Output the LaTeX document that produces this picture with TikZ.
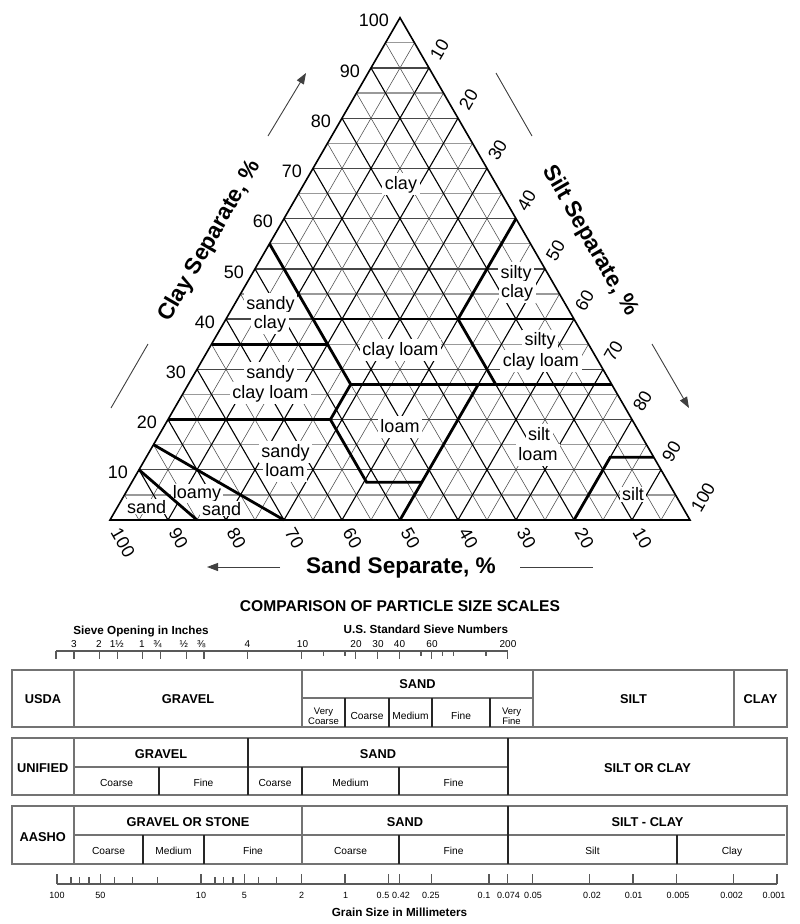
\documentclass[tikz,border=0pt]{standalone}
\usepackage{fontspec}
\setmainfont{Liberation Sans}
\usetikzlibrary{arrows.meta}
\pgfmathdeclarefunction{ternx}{2}{\pgfmathparse{110+5.8*(#2)+2.9*(#1)}}
\pgfmathdeclarefunction{terny}{1}{\pgfmathparse{520-5.0229*(#1)}}
\tikzset{
  gridmajorh/.style={draw=black!72, line width=1.3pt},
  gridminorh/.style={draw=black!40, line width=1.3pt},
  gridmajord/.style={draw=black, line width=1.1pt},
  gridminord/.style={draw=black!70, line width=0.55pt},
  bound/.style={draw=black, line width=2.8pt, line join=miter},
  outline/.style={draw=black, line width=1.6pt, line join=miter},
  clstight/.style={font=\fontsize{18}{20}\selectfont, fill=white, inner xsep=2pt, inner ysep=1pt, anchor=base},
  cls/.style={clstight, text height=15.5pt, text depth=5pt, inner xsep=2.5pt, inner ysep=0.5pt},
  axnum/.style={font=\fontsize{18}{20}\selectfont, inner sep=0pt},
  axtitle/.style={font=\bfseries\fontsize{22.6}{26}\selectfont, inner sep=0pt},
  arrline/.style={draw=black!75, line width=0.9pt},
  arrtip/.style={-{Triangle[length=11pt,width=8pt]}},
  lowtitle/.style={font=\bfseries\fontsize{15.6}{18}\selectfont, inner sep=0pt, anchor=base},
  scaletitle/.style={font=\bfseries\fontsize{11.7}{14}\selectfont, inner sep=0pt, anchor=base},
  sievenumtxt/.style={font=\fontsize{10}{12}\selectfont, inner sep=0pt, anchor=base},
  grainnumtxt/.style={font=\fontsize{9}{11}\selectfont, inner sep=0pt, anchor=base},
  scaleline/.style={draw=black!65, line width=1.2pt},
  tbold/.style={font=\bfseries\fontsize{12.8}{15}\selectfont, inner sep=0pt, anchor=base},
  tsub/.style={font=\fontsize{10.2}{12}\selectfont, inner sep=0pt, anchor=base},
  tsubsm/.style={font=\fontsize{9.5}{11}\selectfont, inner sep=0pt, anchor=base},
  tbox/.style={draw=black!55, line width=1.8pt},
  tdiv/.style={draw=black!85, line width=1.1pt},
}
\begin{document}
\begin{tikzpicture}[x=1pt,y=-1pt]
\fill[white] (0,0) rectangle (800,924);
\useasboundingbox (0,0) rectangle (800,924);
\coordinate (B) at (110,520);
\coordinate (R) at (690,520);
\coordinate (T) at (400,17.71);
% ---- grid ----
\foreach \k in {5,15,...,95}{
  \draw[gridminord] ({ternx(0,\k)},{terny(0)}) -- ({ternx(100-\k,\k)},{terny(100-\k)});
  \draw[gridminord] ({ternx(0,\k)},{terny(0)}) -- ({ternx(\k,0)},{terny(\k)});
}
\foreach \k in {5,15,...,95}{
  \draw[gridminorh] ({ternx(\k,0)},{terny(\k)}) -- ({ternx(\k,100-\k)},{terny(\k)});
}
\foreach \k in {10,20,...,90}{
  \draw[gridmajorh] ({ternx(\k,0)},{terny(\k)}) -- ({ternx(\k,100-\k)},{terny(\k)});
}
\foreach \k in {10,20,...,90}{
  \draw[gridmajord] ({ternx(0,\k)},{terny(0)}) -- ({ternx(100-\k,\k)},{terny(100-\k)});
  \draw[gridmajord] ({ternx(0,\k)},{terny(0)}) -- ({ternx(\k,0)},{terny(\k)});
}
% ---- class labels ----
\node[cls] (l-clay) at (401,189) {clay};
\node[cls] (l-sc1) at (516,278) {silty};
\node[cls] (l-sc2) at (517,297) {clay};
\node[cls] (l-sac1) at (270.5,309) {sandy};
\node[cls] (l-sac2) at (270,328) {clay};
\node[cls] (l-cl) at (400.5,355) {clay loam};
\node[cls] (l-scl1) at (540,345.7) {silty};
\node[cls] (l-scl2) at (541,366) {clay loam};
\node[cls] (l-sacl1) at (270.3,378) {sandy};
\node[cls] (l-sacl2) at (270.5,398) {clay loam};
\node[cls] (l-loam) at (400,432) {loam};
\node[cls] (l-sil1) at (539,440) {silt};
\node[cls] (l-sil2) at (538,460) {loam};
\node[cls] (l-sal1) at (285.5,457) {sandy};
\node[cls] (l-sal2) at (285,476.7) {loam};
\node[clstight] (l-ls1) at (197,498) {loamy};
\node[clstight] (l-ls2) at (221.7,515) {sand};
\node[clstight] (l-sand) at (146.7,513) {sand};
\node[clstight] (l-silt) at (633,500.7) {silt};
% ---- class boundaries ----
\draw[bound] ({ternx(55,0)},{terny(55)}) -- ({ternx(40,15)},{terny(40)}) -- ({ternx(35,20)},{terny(35)}) -- ({ternx(27,28)},{terny(27)}) -- ({ternx(20,28)},{terny(20)}) -- ({ternx(7.5,40.5)},{terny(7.5)}) -- ({ternx(7.5,50)},{terny(7.5)});
\draw[bound] ({ternx(35,0)},{terny(35)}) -- ({ternx(35,20)},{terny(35)});
\draw[bound] ({ternx(40,15)},{terny(40)}) -- ({ternx(40,60)},{terny(40)});
\draw[bound] ({ternx(60,40)},{terny(60)}) -- ({ternx(40,40)},{terny(40)}) -- ({ternx(27,53)},{terny(27)});
\draw[bound] ({ternx(27,28)},{terny(27)}) -- ({ternx(27,73)},{terny(27)});
\draw[bound] ({ternx(20,0)},{terny(20)}) -- ({ternx(20,28)},{terny(20)});
\draw[bound] ({ternx(27,50)},{terny(27)}) -- ({ternx(0,50)},{terny(0)});
\draw[bound] ({ternx(15,0)},{terny(15)}) -- ({ternx(0,30)},{terny(0)});
\draw[bound] ({ternx(10,0)},{terny(10)}) -- ({ternx(0,15)},{terny(0)});
\draw[bound] ({ternx(0,80)},{terny(0)}) -- ({ternx(12.5,80)},{terny(12.5)}) -- ({ternx(12.5,87.5)},{terny(12.5)});
% ---- outline ----
\draw[outline] (B) -- (R) -- (T) -- cycle;
% ---- axis numbers ----
\foreach \c in {10,20,...,100}{
  \node[axnum, anchor=east] (cl\c) at ({ternx(\c,0)-11},{terny(\c)+3}) {\c};
}
\foreach \s in {10,20,...,100}{
  \node[axnum, anchor=west, rotate=60] (sl\s) at ({400+2.9*\s+5.5},{17.71+5.0229*\s-9.5}) {\s};
}
\foreach \a in {10,20,...,100}{
  \node[axnum, anchor=west, rotate=-60] (sd\a) at ({110+5.8*(100-\a)+5.5},529.5) {\a};
}
% ---- axis titles and arrows ----
\node[axtitle, rotate=60] (clayT) at (210,241) {Clay Separate, \%};
\node[axtitle, rotate=-60] (siltT) at (590,241) {Silt Separate, \%};
\node[axtitle, anchor=base] (sandT) at (401,573) {Sand Separate, \%};
\coordinate (ca1) at (268,136); \coordinate (ca2) at (306,73);
\coordinate (cb1) at (111,408); \coordinate (cb2) at (148,344);
\coordinate (sa1) at (496,73);  \coordinate (sa2) at (532,136);
\coordinate (sb1) at (652,344); \coordinate (sb2) at (689,408);
\coordinate (da1) at (280,567); \coordinate (da2) at (207,567);
\coordinate (db1) at (520,567); \coordinate (db2) at (593,567);
\draw[arrline, arrtip] (ca1) -- (ca2);
\draw[arrline] (cb1) -- (cb2);
\draw[arrline] (sa1) -- (sa2);
\draw[arrline, arrtip] (sb1) -- (sb2);
\draw[arrline, arrtip] (da1) -- (da2);
\draw[arrline] (db1) -- (db2);
% ---- comparison title ----
\node[lowtitle] (cmp) at (400,611.5) {COMPARISON OF PARTICLE SIZE SCALES};
\node[scaletitle] (sievein) at (141,634) {Sieve Opening in Inches};
\node[scaletitle] (sievenum) at (425.8,633.5) {U.S. Standard Sieve Numbers};
% ---- sieve scale ----
\draw[scaleline] (56,651) -- (508,651);
\foreach \x/\l in {56/8,74/8,99.4/8,117.4/8,142.7/8,160.7/8,186.1/8,204/8,247.4/8,301.7/8,323.5/5,345/5,355.8/8,377.5/8,399.3/8,420.9/5,431.7/8,442.6/5,453.3/5,486/5,507.8/8}{
  \draw[scaleline] (\x,651) -- (\x,{651+\l});
}
\foreach \x/\t [count=\i] in {73.8/3,98.8/2,116.7/1½,141.8/1,157.5/¾,183.8/½,201.3/⅜,247.5/4,302.5/10,356/20,378/30,399.5/40,432/60,508/200}{
  \node[sievenumtxt] (sv\i) at (\x,647.5) {\t};
}
% ---- USDA ----
\draw[tbox] (12,670) rectangle (787,727);
\draw[tbox] (74,670) -- (74,727);
\draw[tbox] (302,670) -- (302,727);
\draw[tbox] (533,670) -- (533,727);
\draw[tbox] (734,670) -- (734,727);
\draw[tbox] (302,698) -- (533,698);
\foreach \x in {345,389,432,490}{ \draw[tdiv] (\x,698) -- (\x,727); }
\node[tbold] (u-usda) at (43,703.5) {USDA};
\node[tbold] (u-gravel) at (188,703.5) {GRAVEL};
\node[tbold] (u-sand) at (417.5,688.5) {SAND};
\node[tbold] (u-silt) at (633.5,703.5) {SILT};
\node[tbold] (u-clay) at (760.5,703.5) {CLAY};
\node[tsubsm] (u-vc1) at (323.5,714.3) {Very};
\node[tsubsm] (u-vc2) at (323.5,724) {Coarse};
\node[tsub] (u-c) at (367,719.5) {Coarse};
\node[tsub] (u-m) at (410.5,719.5) {Medium};
\node[tsub] (u-f) at (461,719.5) {Fine};
\node[tsubsm] (u-vf1) at (511.5,714.3) {Very};
\node[tsubsm] (u-vf2) at (511.5,724) {Fine};
% ---- UNIFIED ----
\draw[tbox] (12,738) rectangle (787,795);
\draw[tbox] (74,738) -- (74,795);
\draw[tbox] (74,767) -- (508,767);
\draw[tdiv] (248,738) -- (248,795);
\draw[tdiv] (508,738) -- (508,795);
\foreach \x in {159,302,399}{ \draw[tdiv] (\x,767) -- (\x,795); }
\node[tbold] (n-unified) at (42.7,772.5) {UNIFIED};
\node[tbold] (n-gravel) at (161,758) {GRAVEL};
\node[tbold] (n-sand) at (378,758) {SAND};
\node[tbold] (n-soc) at (647.5,772.5) {SILT OR CLAY};
\node[tsub] (n-c1) at (116.5,786.5) {Coarse};
\node[tsub] (n-f1) at (203.5,786.5) {Fine};
\node[tsub] (n-c2) at (275,786.5) {Coarse};
\node[tsub] (n-m) at (350.5,786.5) {Medium};
\node[tsub] (n-f2) at (453.5,786.5) {Fine};
% ---- AASHO ----
\draw[tbox] (12,806) rectangle (787,864);
\draw[tbox] (74,806) -- (74,864);
\draw[tbox] (74,835) -- (785,835);
\draw[tbox] (302,806) -- (302,864);
\draw[tdiv] (508,806) -- (508,864);
\foreach \x in {143,204,399,677}{ \draw[tdiv] (\x,835) -- (\x,864); }
\node[tbold] (a-aasho) at (42.7,841.5) {AASHO};
\node[tbold] (a-gravel) at (188,826.5) {GRAVEL OR STONE};
\node[tbold] (a-sand) at (405,826.5) {SAND};
\node[tbold] (a-sc) at (647.5,826.5) {SILT - CLAY};
\node[tsub] (a-c1) at (108.5,854) {Coarse};
\node[tsub] (a-m) at (173.5,854) {Medium};
\node[tsub] (a-f1) at (253,854) {Fine};
\node[tsub] (a-c2) at (350.5,854) {Coarse};
\node[tsub] (a-f2) at (453.5,854) {Fine};
\node[tsub] (a-silt) at (592.5,854) {Silt};
\node[tsub] (a-clay) at (732,854) {Clay};
% ---- grain size scale ----
\draw[scaleline] (57,884) -- (777,884);
\foreach \x/\l in {57/10,71/7,79.3/7,88.9/7,100.3/10,114.3/7,132.3/7,157.6/7,201/10,215/7,223.3/7,232.9/7,244.3/10,258.3/7,276.3/7,301.7/10,345/10,388.3/10,399.3/10,431.7/10,489/10,507.8/10,532.3/10,589.7/10,633/10,676.3/10,733.7/10,777/10}{
  \draw[scaleline] (\x,884) -- (\x,{884-\l});
}
\foreach \x/\t [count=\i] in {57/100,100.5/50,201/10,244.5/5,301.7/2,345.5/1,383/0.5,401/0.42,430.8/0.25,484/0.1,508.5/0.074,533/0.05,592/0.02,633.7/0.01,678/0.005,731.7/0.002,774/0.001}{
  \node[grainnumtxt] (g\i) at (\x,898) {\t};
}
\node[scaletitle] (grainT) at (399.5,916) {Grain Size in Millimeters};
\end{tikzpicture}
\end{document}
